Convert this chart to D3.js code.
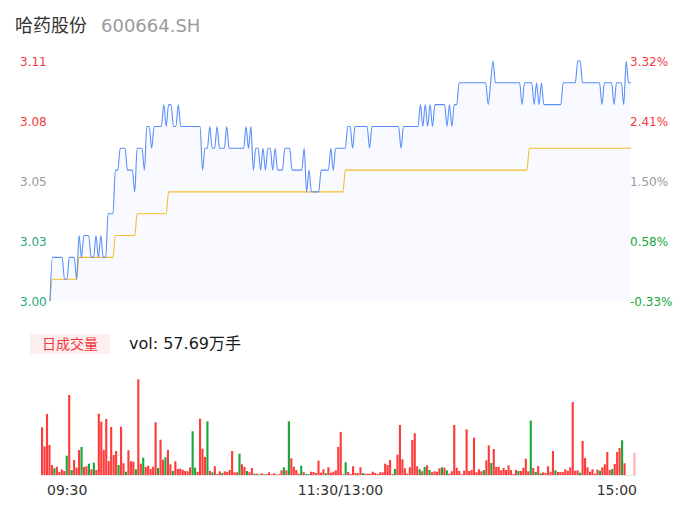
<!DOCTYPE html>
<html>
<head>
<meta charset="utf-8">
<script src="https://cdn.jsdelivr.net/npm/d3@7"></script>
<style>
  html, body { margin: 0; padding: 0; background: #fff; }
  svg { display: block; font-family: "DejaVu Sans", "Noto Sans CJK SC", sans-serif; }
</style>
</head>
<body>
<svg id="chart" width="686" height="524"></svg>
<script>
// ---- Intraday data (one point per trading minute, 241 minutes) ----
const stockName = "哈药股份";
const stockCode = "600664.SH";
const prevClose = 3.01;
const priceDomain = [3.00, 3.11];
const totalVolumeHands = 576900;
const volumeTitle = "日成交量";
const timeLabels = ["09:30", "11:30/13:00", "15:00"];

const prices = [
  3.00,3.02,3.02,3.02,3.02,3.02,3.01,3.01,3.02,3.02,
  3.02,3.01,3.03,3.02,3.03,3.03,3.03,3.02,3.02,3.03,
  3.02,3.03,3.02,3.02,3.04,3.04,3.04,3.06,3.06,3.07,
  3.07,3.07,3.06,3.06,3.06,3.05,3.07,3.07,3.07,3.06,
  3.08,3.08,3.07,3.08,3.08,3.08,3.08,3.09,3.08,3.09,
  3.09,3.08,3.08,3.09,3.08,3.08,3.08,3.08,3.08,3.08,
  3.08,3.08,3.08,3.06,3.07,3.07,3.08,3.07,3.07,3.08,
  3.07,3.07,3.07,3.08,3.07,3.07,3.07,3.07,3.07,3.07,
  3.07,3.08,3.07,3.08,3.06,3.07,3.07,3.06,3.07,3.06,
  3.07,3.07,3.06,3.07,3.06,3.06,3.06,3.07,3.07,3.07,
  3.06,3.06,3.06,3.06,3.06,3.07,3.05,3.06,3.05,3.05,
  3.05,3.05,3.06,3.06,3.06,3.06,3.07,3.06,3.07,3.07,
  3.07,3.07,3.07,3.08,3.08,3.07,3.08,3.08,3.08,3.08,
  3.08,3.08,3.07,3.08,3.08,3.08,3.08,3.08,3.08,3.08,
  3.08,3.08,3.08,3.08,3.08,3.07,3.08,3.08,3.08,3.08,
  3.08,3.08,3.08,3.09,3.08,3.09,3.08,3.09,3.08,3.09,
  3.09,3.09,3.09,3.09,3.08,3.09,3.08,3.09,3.09,3.10,
  3.10,3.10,3.10,3.10,3.10,3.10,3.10,3.10,3.10,3.10,
  3.10,3.09,3.10,3.11,3.10,3.10,3.10,3.10,3.10,3.10,
  3.10,3.10,3.10,3.10,3.10,3.09,3.10,3.10,3.10,3.10,
  3.09,3.10,3.09,3.10,3.09,3.09,3.09,3.09,3.09,3.09,
  3.09,3.09,3.10,3.10,3.10,3.10,3.10,3.10,3.11,3.11,
  3.10,3.10,3.10,3.10,3.10,3.10,3.10,3.10,3.09,3.10,
  3.10,3.10,3.10,3.09,3.10,3.10,3.10,3.09,3.11,3.10,
  3.10
];

const avgPrices = [
  3.00,3.01,3.01,3.01,3.01,3.01,3.01,3.01,3.01,3.01,
  3.01,3.01,3.02,3.02,3.02,3.02,3.02,3.02,3.02,3.02,
  3.02,3.02,3.02,3.02,3.02,3.02,3.02,3.03,3.03,3.03,
  3.03,3.03,3.03,3.03,3.03,3.03,3.04,3.04,3.04,3.04,
  3.04,3.04,3.04,3.04,3.04,3.04,3.04,3.04,3.04,3.05,
  3.05,3.05,3.05,3.05,3.05,3.05,3.05,3.05,3.05,3.05,
  3.05,3.05,3.05,3.05,3.05,3.05,3.05,3.05,3.05,3.05,
  3.05,3.05,3.05,3.05,3.05,3.05,3.05,3.05,3.05,3.05,
  3.05,3.05,3.05,3.05,3.05,3.05,3.05,3.05,3.05,3.05,
  3.05,3.05,3.05,3.05,3.05,3.05,3.05,3.05,3.05,3.05,
  3.05,3.05,3.05,3.05,3.05,3.05,3.05,3.05,3.05,3.05,
  3.05,3.05,3.05,3.05,3.05,3.05,3.05,3.05,3.05,3.05,
  3.05,3.05,3.06,3.06,3.06,3.06,3.06,3.06,3.06,3.06,
  3.06,3.06,3.06,3.06,3.06,3.06,3.06,3.06,3.06,3.06,
  3.06,3.06,3.06,3.06,3.06,3.06,3.06,3.06,3.06,3.06,
  3.06,3.06,3.06,3.06,3.06,3.06,3.06,3.06,3.06,3.06,
  3.06,3.06,3.06,3.06,3.06,3.06,3.06,3.06,3.06,3.06,
  3.06,3.06,3.06,3.06,3.06,3.06,3.06,3.06,3.06,3.06,
  3.06,3.06,3.06,3.06,3.06,3.06,3.06,3.06,3.06,3.06,
  3.06,3.06,3.06,3.06,3.06,3.06,3.06,3.06,3.07,3.07,
  3.07,3.07,3.07,3.07,3.07,3.07,3.07,3.07,3.07,3.07,
  3.07,3.07,3.07,3.07,3.07,3.07,3.07,3.07,3.07,3.07,
  3.07,3.07,3.07,3.07,3.07,3.07,3.07,3.07,3.07,3.07,
  3.07,3.07,3.07,3.07,3.07,3.07,3.07,3.07,3.07,3.07,
  3.07
];

// volume per minute, in 手 (lots)
const volumes = [
  9160,5510,11710,5760,1920,1290,1590,580,1090,770,
  3710,15360,960,2880,1400,4800,5380,1540,1670,2170,
  1090,2360,960,11770,10230,4800,10750,2690,9220,3840,
  4610,1920,9270,2250,630,4740,2630,2550,1090,18370,
  2170,3320,1540,1790,1150,1590,10120,1340,6780,2940,
  3400,4800,2050,770,2630,1150,1210,1020,770,710,
  1480,8390,1400,580,10810,5050,3460,10310,770,520,
  1670,190,710,380,710,580,960,4610,520,520,
  4090,2050,1540,770,520,1340,250,250,130,330,
  130,190,520,130,330,130,130,900,1480,900,
  10310,3210,1590,960,250,1790,520,190,190,630,
  580,380,2750,440,1090,330,1480,440,630,900,
  5380,8260,130,2440,580,190,1670,380,330,1480,
  380,250,250,250,630,380,190,520,520,2170,
  1920,2880,190,1150,3900,9600,3010,1290,250,1480,
  6720,8010,1670,1090,710,1540,1860,960,520,710,
  630,1290,1480,1400,900,250,710,9600,1400,770,
  130,830,8770,770,960,7160,520,1090,710,960,
  2820,5700,2300,4990,1540,1590,900,1340,960,1860,
  960,190,960,770,770,1400,3130,710,10430,1340,
  580,1730,330,520,380,1670,630,4610,900,580,
  580,580,1090,830,1480,14020,830,900,440,6530,
  3260,1480,630,1090,250,1020,830,1480,2050,4420,
  960,1150,2110,4420,5180,6660,2250,0,0,0,
  4280
];

// minutes whose bar is drawn green (price fell)
const downMinutes = [5,10,12,16,19,21,31,34,38,41,47,50,53,61,62,67,69,73,80,83,
  86,88,90,98,100,105,107,108,115,123,130,143,153,155,157,162,164,179,182,193,
  198,200,202,208,218,226,231,235];

// ---- Colours ----
const C = {
  up: "#f23a3f", down: "#1fa845", upAxis: "#f23a3f",
  downAxisL: "#2aa67a", downAxisR: "#18a53c", flat: "#9a9a9a",
  line: "#5b8ff9", avg: "#f7bb2a", fill: "rgba(91,143,249,0.045)",
  barUp: "#ff3c3c", barDown: "#17a83a"
};

const svg = d3.select("#chart");

// ---- Header ----
svg.append("text").attr("x", 15).attr("y", 32)
  .attr("font-size", 18).attr("fill", "#333")
  .attr("font-family", "'Noto Sans CJK SC', sans-serif")
  .text(stockName);
svg.append("text").attr("x", 101).attr("y", 32)
  .attr("font-size", 18).attr("fill", "#9b9b9b")
  .text(stockCode);

// ---- Price panel ----
const n = prices.length;
const x = d3.scaleLinear().domain([0, n - 1]).range([50, 631]);
const y = d3.scaleLinear().domain(priceDomain).range([301, 61]);

const priceTicks = d3.range(5).map(i => priceDomain[0] + (priceDomain[1] - priceDomain[0]) * i / 4);
const mid = (priceDomain[0] + priceDomain[1]) / 2;

svg.append("path")
  .datum(prices)
  .attr("fill", C.fill)
  .attr("d", d3.area().x((d, i) => x(i)).y0(y(priceDomain[0])).y1(d => y(d)).curve(d3.curveMonotoneX));

svg.append("path")
  .datum(avgPrices)
  .attr("fill", "none").attr("stroke", C.avg).attr("stroke-width", 1.1)
  .attr("d", d3.line().x((d, i) => x(i)).y(d => y(d)).curve(d3.curveMonotoneX));

svg.append("path")
  .datum(prices)
  .attr("fill", "none").attr("stroke", C.line).attr("stroke-width", 1.1)
  .attr("d", d3.line().x((d, i) => x(i)).y(d => y(d)).curve(d3.curveMonotoneX));

// left axis: prices
const leftAxis = d3.axisLeft(y).tickValues(priceTicks).tickSize(0).tickFormat(d => d.toFixed(2));
const gL = svg.append("g").attr("transform", "translate(20,0)").call(leftAxis);
gL.select(".domain").remove();
gL.selectAll("text")
  .attr("text-anchor", "start").attr("x", 0).attr("dy", "0.35em")
  .attr("font-size", 12).attr("font-family", "DejaVu Sans")
  .attr("fill", d => Math.abs(d - mid) < 1e-9 ? C.flat : (d > mid ? C.upAxis : C.downAxisL));

// right axis: change vs previous close
const rightAxis = d3.axisRight(y).tickValues(priceTicks).tickSize(0)
  .tickFormat(d => ((d / prevClose - 1) * 100).toFixed(2) + "%");
const gR = svg.append("g").attr("transform", "translate(630,0)").call(rightAxis);
gR.select(".domain").remove();
gR.selectAll("text")
  .attr("x", 0).attr("dy", "0.35em")
  .attr("font-size", 12).attr("font-family", "DejaVu Sans")
  .attr("fill", d => Math.abs(d - mid) < 1e-9 ? C.flat : (d > mid ? C.upAxis : C.downAxisR));

// ---- Volume header ----
svg.append("rect").attr("x", 30).attr("y", 334).attr("width", 80).attr("height", 20)
  .attr("fill", "#fdefed");
svg.append("text").attr("x", 70).attr("y", 349).attr("text-anchor", "middle")
  .attr("font-size", 14).attr("fill", "#f2343b")
  .attr("font-family", "'Noto Sans CJK SC', sans-serif")
  .text(volumeTitle);
svg.append("text").attr("x", 129).attr("y", 349)
  .attr("font-size", 16).attr("fill", "#1a1a1a")
  .text("vol: " + (totalVolumeHands / 10000).toFixed(2) + "万手");

// ---- Volume bars ----
const downSet = new Set(downMinutes);
const xb = d3.scaleBand().domain(d3.range(n)).range([41, 635.5]).paddingInner(0.14);
const yv = d3.scaleLinear().domain([0, d3.max(volumes)]).range([475, 379.3]);

svg.append("line").attr("x1", 41).attr("x2", 636).attr("y1", 475.5).attr("y2", 475.5)
  .attr("stroke", "#e6e6e6").attr("stroke-width", 1);

svg.append("g").selectAll("rect")
  .data(volumes)
  .join("rect")
  .attr("x", (d, i) => xb(i))
  .attr("width", xb.bandwidth())
  .attr("y", d => yv(d))
  .attr("height", d => yv(0) - yv(d))
  .attr("fill", (d, i) => downSet.has(i) ? C.barDown : C.barUp)
  .attr("fill-opacity", (d, i) => i === n - 1 ? 0.4 : 1);

// ---- Time axis ----
const timeAnchors = [
  { t: timeLabels[0], x: 47, anchor: "start" },
  { t: timeLabels[1], x: 340.5, anchor: "middle" },
  { t: timeLabels[2], x: 637, anchor: "end" }
];
svg.append("g").selectAll("text")
  .data(timeAnchors)
  .join("text")
  .attr("x", d => d.x).attr("y", 495)
  .attr("text-anchor", d => d.anchor)
  .attr("font-size", 14).attr("fill", "#333")
  .text(d => d.t);
</script>
</body>
</html>
